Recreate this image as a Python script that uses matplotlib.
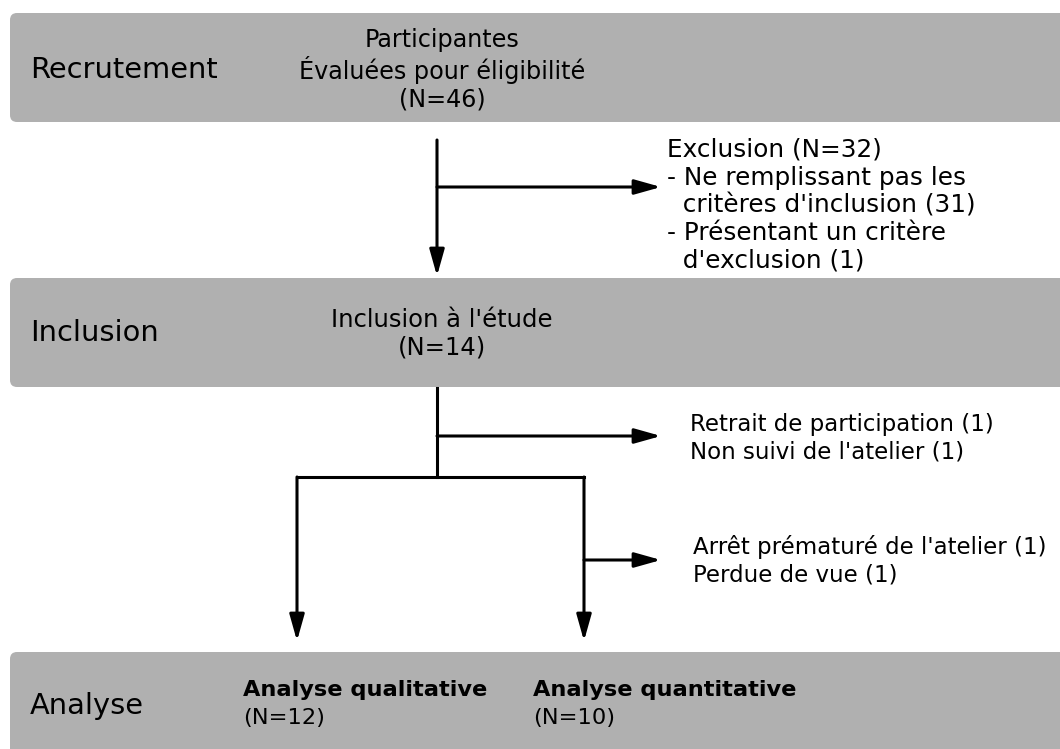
import matplotlib
matplotlib.use("Agg")
import matplotlib.pyplot as plt
from matplotlib.patches import FancyBboxPatch

# stages (grey bands) : label, top, bottom (pixel rows)
stage_labels = ["Recrutement", "Inclusion", "Analyse"]
stage_top = [13, 278, 652]
stage_bottom = [122, 387, 760]
stage_label_y = [70, 333, 706]

# centred box texts
center_texts = [
    ["Participantes", "Évaluées pour éligibilité", "(N=46)"],
    ["Inclusion à l'étude", "(N=14)"],
]
center_size = [17.2, 17.5]
center_step = [30, 28]
center_x = 442
center_y0 = [40, 320]

# side notes (left aligned)
side_texts = [
    ["Exclusion (N=32)", "- Ne remplissant pas les", "  critères d'inclusion (31)",
     "- Présentant un critère", "  d'exclusion (1)"],
    ["Retrait de participation (1)", "Non suivi de l'atelier (1)"],
    ["Arrêt prématuré de l'atelier (1)", "Perdue de vue (1)"],
]
side_size = [17.8, 16.5, 16.5]
side_x = [667, 690, 693]
side_y0 = [150, 424, 547]

# final groups
group_titles = ["Analyse qualitative", "Analyse quantitative"]
group_n = [12, 10]
group_x = [243, 533]

line_step = 27.6

fig = plt.figure(figsize=(10.6, 7.49), dpi=100)
ax = fig.add_axes([0, 0, 1, 1])
ax.set_xlim(0, 1060)
ax.set_ylim(749, 0)
ax.axis("off")

grey = "#b0b0b0"
for lab, t, b, ly in zip(stage_labels, stage_top, stage_bottom, stage_label_y):
    ax.add_patch(FancyBboxPatch((10, t), 1070, b - t,
                                boxstyle="round,pad=0,rounding_size=7",
                                fc=grey, ec="none", zorder=0))
    ax.text(30, ly, lab, fontsize=20.8, va="center", ha="left")

for lines, y0, fs, step in zip(center_texts, center_y0, center_size, center_step):
    for i, s in enumerate(lines):
        ax.text(center_x, y0 + i * step, s, fontsize=fs, ha="center", va="center")

for lines, x, y0, fs in zip(side_texts, side_x, side_y0, side_size):
    for i, s in enumerate(lines):
        ax.text(x, y0 + i * line_step, s, fontsize=fs, ha="left", va="center")

for title, n, x in zip(group_titles, group_n, group_x):
    ax.text(x, 690, title, fontsize=16.2, fontweight="bold", ha="left", va="center")
    ax.text(x, 718, f"(N={n})", fontsize=16.2, ha="left", va="center")

lw = 2.2
arrow = dict(arrowstyle="-|>,head_length=1.6,head_width=0.45", lw=lw,
             color="black", shrinkA=0, shrinkB=0)


def arr(x0, y0, x1, y1):
    ax.annotate("", xy=(x1, y1), xytext=(x0, y0), arrowprops=arrow)


def seg(xs, ys):
    ax.plot(xs, ys, color="black", lw=lw, solid_capstyle="projecting")


# recruitment -> inclusion
arr(437, 140, 437, 276)
arr(437, 187, 661, 187)
# inclusion -> split
seg([437, 437], [388, 477])
arr(437, 436, 661, 436)
seg([297, 584], [477, 477])
arr(297, 477, 297, 641)
arr(584, 477, 584, 641)
arr(584, 560, 661, 560)

fig.savefig("out.png", dpi=100)
